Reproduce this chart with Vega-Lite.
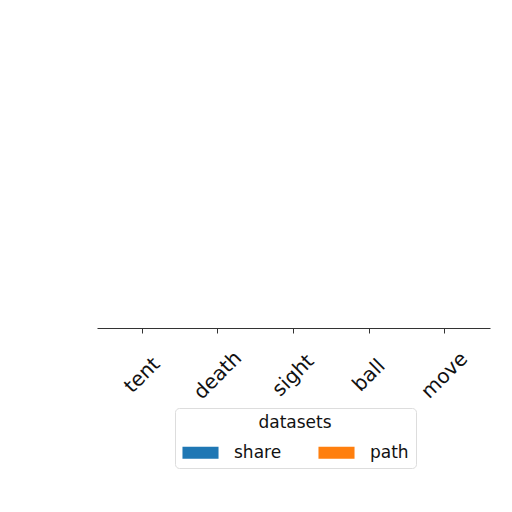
{
  "$schema": "https://vega.github.io/schema/vega-lite/v6.json",
  "width": 393,
  "height": 308,
  "autosize": {"type": "none"},
  "padding": {"left": 97, "top": 20, "right": 22, "bottom": 184},
  "background": "white",
  "config": {
    "view": {"stroke": null},
    "font": "DejaVu Sans",
    "axis": {"grid": false}
  },
  "data": {
    "values": [
      {"category": "tent", "dataset": "share", "value": 0},
      {"category": "tent", "dataset": "path", "value": 0},
      {"category": "death", "dataset": "share", "value": 0},
      {"category": "death", "dataset": "path", "value": 0},
      {"category": "sight", "dataset": "share", "value": 0},
      {"category": "sight", "dataset": "path", "value": 0},
      {"category": "ball", "dataset": "share", "value": 0},
      {"category": "ball", "dataset": "path", "value": 0},
      {"category": "move", "dataset": "share", "value": 0},
      {"category": "move", "dataset": "path", "value": 0}
    ]
  },
  "mark": "bar",
  "encoding": {
    "x": {
      "field": "category",
      "type": "nominal",
      "sort": null,
      "scale": {"paddingInner": 0.2, "paddingOuter": 0.2},
      "title": null,
      "axis": {
        "labelAngle": -45,
        "labelAlign": "center",
        "labelBaseline": "middle",
        "labelPadding": 42,
        "labelFontSize": 20,
        "labelColor": "#111",
        "tickSize": 5,
        "tickColor": "#333",
        "domainColor": "#333"
      }
    },
    "xOffset": {"field": "dataset", "type": "nominal", "sort": ["share", "path"]},
    "y": {
      "field": "value",
      "type": "quantitative",
      "scale": {"domain": [0, 1]},
      "axis": null
    },
    "color": {
      "field": "dataset",
      "type": "nominal",
      "sort": ["share", "path"],
      "scale": {"domain": ["share", "path"], "range": ["#1f77b4", "#ff7f0e"]},
      "title": "datasets",
      "legend": {
        "orient": "none",
        "legendX": 78,
        "legendY": 388,
        "direction": "horizontal",
        "columns": 2,
        "columnPadding": 36,
        "titleAnchor": "middle",
        "titleFontSize": 17,
        "titleFontWeight": "normal",
        "titleColor": "#111",
        "titlePadding": 2,
        "labelFontSize": 17,
        "labelColor": "#111",
        "labelOffset": 15,
        "symbolType": "M-1,-0.33H1V0.33H-1Z",
        "symbolSize": 1300,
        "symbolStrokeWidth": 0,
        "padding": 7,
        "strokeColor": "#ddd",
        "cornerRadius": 4,
        "fillColor": "white"
      }
    }
  }
}
